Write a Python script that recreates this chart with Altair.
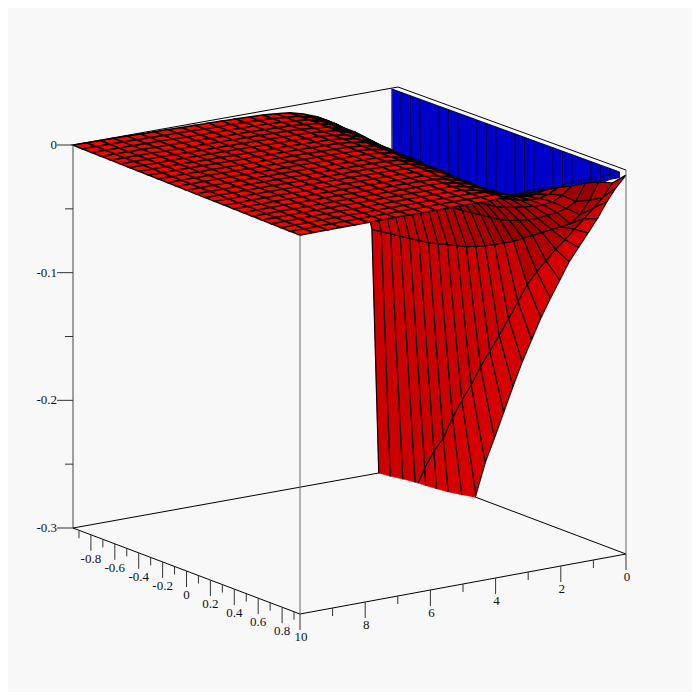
import numpy as np
import pandas as pd
import altair as alt

# Axis grids
u_grid = [-0.95, -0.871, -0.792, -0.712, -0.633, -0.554, -0.475, -0.396, -0.317, -0.237, -0.158, -0.079, 0.0,
          0.079, 0.158, 0.237, 0.317, 0.396, 0.475, 0.554, 0.633, 0.712, 0.792, 0.871, 0.95]
v_grid = [j * 10 / 24 for j in range(25)]

# Surface heights, one list per v line
z_v0 = [-1.0, -0.85, -0.72, -0.62, -0.53, -0.45, -0.385, -0.335, -0.298, -0.27, -0.248, -0.225, -0.202, -0.18, -0.16, -0.14, -0.122, -0.105, -0.088, -0.074, -0.06, -0.046, -0.03, -0.016, -0.004]
z_v1 = [-0.62, -0.47, -0.36, -0.305, -0.286, -0.27, -0.257, -0.238, -0.222, -0.207, -0.19, -0.175, -0.16, -0.144, -0.128, -0.112, -0.099, -0.088, -0.076, -0.066, -0.055, -0.044, -0.033, -0.022, -0.008]
z_v2 = [-0.108, -0.107, -0.106, -0.105, -0.104, -0.103, -0.102, -0.1, -0.098, -0.096, -0.094, -0.091, -0.088, -0.084, -0.08, -0.076, -0.071, -0.066, -0.061, -0.056, -0.051, -0.046, -0.036, -0.022, -0.005]
z_v3 = [-0.055, -0.056, -0.056, -0.057, -0.058, -0.059, -0.06, -0.06, -0.061, -0.061, -0.061, -0.061, -0.06, -0.059, -0.058, -0.057, -0.055, -0.052, -0.049, -0.045, -0.04, -0.035, -0.029, -0.021, -0.004]
z_v4 = [-0.03, -0.031, -0.032, -0.033, -0.035, -0.036, -0.038, -0.039, -0.04, -0.041, -0.042, -0.043, -0.044, -0.044, -0.044, -0.043, -0.042, -0.04, -0.037, -0.034, -0.031, -0.027, -0.022, -0.014, -0.004]
z_v5 = [-0.018, -0.019, -0.02, -0.021, -0.022, -0.023, -0.024, -0.025, -0.026, -0.027, -0.028, -0.029, -0.03, -0.03, -0.03, -0.03, -0.03, -0.029, -0.028, -0.026, -0.024, -0.021, -0.017, -0.011, -0.003]
z_v6 = [-0.012, -0.012, -0.012, -0.013, -0.013, -0.014, -0.015, -0.016, -0.017, -0.017, -0.018, -0.019, -0.019, -0.02, -0.02, -0.02, -0.02, -0.02, -0.02, -0.019, -0.018, -0.016, -0.013, -0.009, -0.003]
z_v7 = [-0.008, -0.008, -0.008, -0.008, -0.009, -0.009, -0.009, -0.01, -0.01, -0.01, -0.011, -0.011, -0.011, -0.012, -0.012, -0.012, -0.013, -0.013, -0.013, -0.014, -0.013, -0.012, -0.01, -0.007, -0.003]
z_v8 = [-0.005, -0.005, -0.005, -0.005, -0.005, -0.005, -0.006, -0.006, -0.006, -0.006, -0.006, -0.006, -0.007, -0.007, -0.007, -0.007, -0.007, -0.008, -0.008, -0.008, -0.008, -0.008, -0.007, -0.005, -0.002]
z_v9 = [-0.004, -0.004, -0.004, -0.004, -0.004, -0.004, -0.004, -0.004, -0.004, -0.004, -0.004, -0.004, -0.004, -0.004, -0.004, -0.004, -0.004, -0.005, -0.005, -0.005, -0.005, -0.005, -0.004, -0.003, -0.002]
# Remaining v lines are level across u
sheet_levels = [-0.003, -0.0026, -0.0023, -0.002, -0.0018, -0.0016, -0.0014, -0.0012, -0.001, -0.0008, -0.0006, -0.0004, -0.0003, -0.0002, -0.0001]

# Blue back surface
blue_v = 0.2
blue_top = [-0.0005] * 25
blue_mid = [-0.102, -0.098, -0.094, -0.09, -0.085, -0.081, -0.077, -0.073, -0.069, -0.064, -0.06, -0.056, -0.052, -0.048, -0.043, -0.039, -0.035, -0.031, -0.027, -0.022, -0.018, -0.014, -0.01, -0.005, -0.001]
blue_bot = [-0.11, -0.106, -0.102, -0.098, -0.093, -0.089, -0.085, -0.081, -0.077, -0.072, -0.068, -0.064, -0.06, -0.056, -0.051, -0.047, -0.043, -0.039, -0.034, -0.029, -0.025, -0.02, -0.015, -0.009, -0.005]

# Box
u_lo, u_hi, v_lo, v_hi, z_lo, z_hi = -0.95, 0.95, 0.0, 10.0, -0.3, 0.0
box_uvz = [(u_lo, v_hi, z_hi), (u_hi, v_hi, z_hi), (u_hi, v_lo, z_hi), (u_lo, v_lo, z_hi),
           (u_lo, v_hi, z_lo), (u_hi, v_hi, z_lo), (u_hi, v_lo, z_lo), (u_lo, v_lo, z_lo)]
box_screen = [(73, 145), (300, 235), (626, 170), (398, 87),
              (73, 528), (300, 614), (626, 554), (401, 469)]


def project(p):
    # Blend of the eight box corners as seen in the picture
    a = (p[0] - u_lo) / (u_hi - u_lo)
    c = (v_hi - p[1]) / (v_hi - v_lo)
    d = (z_hi - p[2]) / (z_hi - z_lo)
    top = [(1 - a) * (1 - c) * box_screen[0][k] + a * (1 - c) * box_screen[1][k] + a * c * box_screen[2][k] + (1 - a) * c * box_screen[3][k] for k in (0, 1)]
    low = [(1 - a) * (1 - c) * box_screen[4][k] + a * (1 - c) * box_screen[5][k] + a * c * box_screen[6][k] + (1 - a) * c * box_screen[7][k] for k in (0, 1)]
    return (top[0] * (1 - d) + low[0] * d, top[1] * (1 - d) + low[1] * d)


u_ticks = [-0.9, -0.8, -0.7, -0.6, -0.5, -0.4, -0.3, -0.2, -0.1, 0, 0.1, 0.2, 0.3, 0.4, 0.5, 0.6, 0.7, 0.8, 0.9]
u_labels = {-0.8: "-0.8", -0.6: "-0.6", -0.4: "-0.4", -0.2: "-0.2", 0: "0", 0.2: "0.2", 0.4: "0.4", 0.6: "0.6", 0.8: "0.8"}
v_ticks = [0, 1, 2, 3, 4, 5, 6, 7, 8, 9, 10]
v_labels = {0: "0", 2: "2", 4: "4", 6: "6", 8: "8", 10: "10"}
z_ticks = [0, -0.05, -0.1, -0.15, -0.2, -0.25, -0.3]
z_labels = {0: "0", -0.1: "-0.1", -0.2: "-0.2", -0.3: "-0.3"}

rows = []
pid = [0]


def add(points, fill="transparent", stroke="#000000", sw=1.0):
    pid[0] += 1
    for k, (x, y) in enumerate(points):
        rows.append(dict(p=pid[0], k=k, x=round(float(x), 2), y=round(float(y), 2),
                         f=fill, s=stroke, w=sw))


def add3(pts, **kw):
    add([project(p) for p in pts], **kw)


def clip_poly(pts):
    out = []
    for i in range(len(pts)):
        a, c = np.array(pts[i]), np.array(pts[(i + 1) % len(pts)])
        ia, ic = a[2] >= z_lo, c[2] >= z_lo
        if ia:
            out.append(tuple(a))
        if ia != ic:
            t = (z_lo - a[2]) / (c[2] - a[2])
            out.append(tuple(a + t * (c - a)))
    return out


def clip_seg(a, c):
    a, c = np.array(a), np.array(c)
    ia, ic = a[2] >= z_lo, c[2] >= z_lo
    if not ia and not ic:
        return None
    if ia and ic:
        return [tuple(a), tuple(c)]
    t = (z_lo - a[2]) / (c[2] - a[2])
    q = a + t * (c - a)
    return [tuple(a), tuple(q)] if ia else [tuple(q), tuple(c)]


# Hidden back edges of the box
P = dict(zip(["a", "b", "c", "d", "e", "f", "g", "h"], box_uvz))
add3([P["a"], P["d"], P["c"]], sw=1.0)
add3([P["e"], P["h"], P["g"]], sw=1.0)

# Blue surface
for i in range(len(u_grid) - 1):
    for top, low in ((blue_top, blue_mid), (blue_mid, blue_bot)):
        add3([(u_grid[i], blue_v, top[i]), (u_grid[i + 1], blue_v, top[i + 1]),
              (u_grid[i + 1], blue_v, low[i + 1]), (u_grid[i], blue_v, low[i]),
              (u_grid[i], blue_v, top[i])], fill="#0000CC", stroke="#00003A", sw=0.9)
add3([(u_grid[0], blue_v, blue_top[0]), (u_grid[0], blue_v, blue_bot[0])], stroke="#666666", sw=1.2)

# Red surface, far cells first
z_rows = [z_v0, z_v1, z_v2, z_v3, z_v4, z_v5, z_v6, z_v7, z_v8, z_v9] + [[lv] * 25 for lv in sheet_levels]
for j in range(len(v_grid) - 1):
    for i in range(len(u_grid) - 1):
        c = [(u_grid[i], v_grid[j], z_rows[j][i]), (u_grid[i + 1], v_grid[j], z_rows[j][i + 1]),
             (u_grid[i + 1], v_grid[j + 1], z_rows[j + 1][i + 1]), (u_grid[i], v_grid[j + 1], z_rows[j + 1][i])]
        zs = [q[2] for q in c]
        if max(zs) < z_lo:
            continue
        gv = abs((zs[3] + zs[2] - zs[0] - zs[1]) / 2) / 0.3 / ((v_grid[j + 1] - v_grid[j]) / 10)
        gu = abs((zs[1] + zs[2] - zs[0] - zs[3]) / 2) / 0.3 / ((u_grid[i + 1] - u_grid[i]) / 1.9)
        g = max(gu, gv)
        lev = int(np.interp(g, [0, 0.15, 0.6, 1.2, 2, 4, 100], [255, 240, 185, 150, 165, 200, 204]))
        if j == 0:
            lev = 215
        elif j == 1:
            lev = 204 if u_grid[i] < 0.2 else 178
        col = "#%02X0000" % lev
        lw = 1.5 if j >= 5 else 1.2
        if min(zs) >= z_lo:
            add3(c + [c[0]], fill=col, stroke="#000000", sw=lw)
        else:
            poly = clip_poly(c)
            add3(poly + [poly[0]], fill=col, stroke=col, sw=0.5)
            for e in range(4):
                seg = clip_seg(c[e], c[(e + 1) % 4])
                if seg:
                    add3(seg, sw=lw)

# Front edges of the box and ticks
add3([P["e"], P["f"], P["g"]], sw=1.0)
add3([P["a"], P["e"]], stroke="#444444", sw=1.0)
add3([P["b"], P["f"]], stroke="#666666", sw=1.0)
add3([P["c"], P["g"]], stroke="#666666", sw=1.0)

texts = []
major, minor = 16, 8
for t in u_ticks:
    x, y = project((t, v_hi, z_lo))
    key = round(t, 1)
    ln = major if key in u_labels else minor
    add([(x, y), (x, y + ln)], stroke="#333333", sw=1.0)
    if key in u_labels:
        texts.append(dict(t=u_labels[key], x=x, y=y + 24))
for t in v_ticks:
    x, y = project((u_hi, t, z_lo))
    ln = major if t in v_labels else minor
    add([(x, y), (x, y + ln)], stroke="#333333", sw=1.0)
    if t in v_labels:
        texts.append(dict(t=v_labels[t], x=x + 1, y=y + 23))
ztexts = []
for t in z_ticks:
    x, y = project((u_lo, v_hi, t))
    ln = major if t in z_labels else minor
    add([(x - ln, y), (x, y)], stroke="#333333", sw=1.0)
    if t in z_labels:
        ztexts.append(dict(t=z_labels[t], x=x - 16, y=y))

df = pd.DataFrame(rows)
xs = alt.Scale(domain=[8, 692], range=[0, 684])
ys = alt.Scale(domain=[8, 692], range=[0, 684])

base = alt.Chart(df).mark_line(clip=False, strokeJoin="miter", strokeCap="butt").encode(
    x=alt.X("x:Q", scale=xs, axis=None),
    y=alt.Y("y:Q", scale=ys, axis=None),
    detail="p:O",
    order="k:Q",
    fill=alt.Fill("f:N", scale=None),
    stroke=alt.Stroke("s:N", scale=None),
    strokeWidth=alt.StrokeWidth("w:Q", scale=None),
)
labels = alt.Chart(pd.DataFrame(texts)).mark_text(font="Liberation Serif", fontSize=13, color="#111111", baseline="middle", align="center").encode(
    x=alt.X("x:Q", scale=xs, axis=None), y=alt.Y("y:Q", scale=ys, axis=None), text="t:N")
zlabels = alt.Chart(pd.DataFrame(ztexts)).mark_text(font="Liberation Serif", fontSize=13, color="#111111", baseline="middle", align="right").encode(
    x=alt.X("x:Q", scale=xs, axis=None), y=alt.Y("y:Q", scale=ys, axis=None), text="t:N")

chart = alt.layer(base, labels, zlabels).properties(
    width=684, height=684, background="#F8F8F8", padding=0, autosize=alt.AutoSizeParams(type="none")
).configure_view(stroke=None)
chart.save("out.html", embed_options={"renderer": "svg", "actions": False})
